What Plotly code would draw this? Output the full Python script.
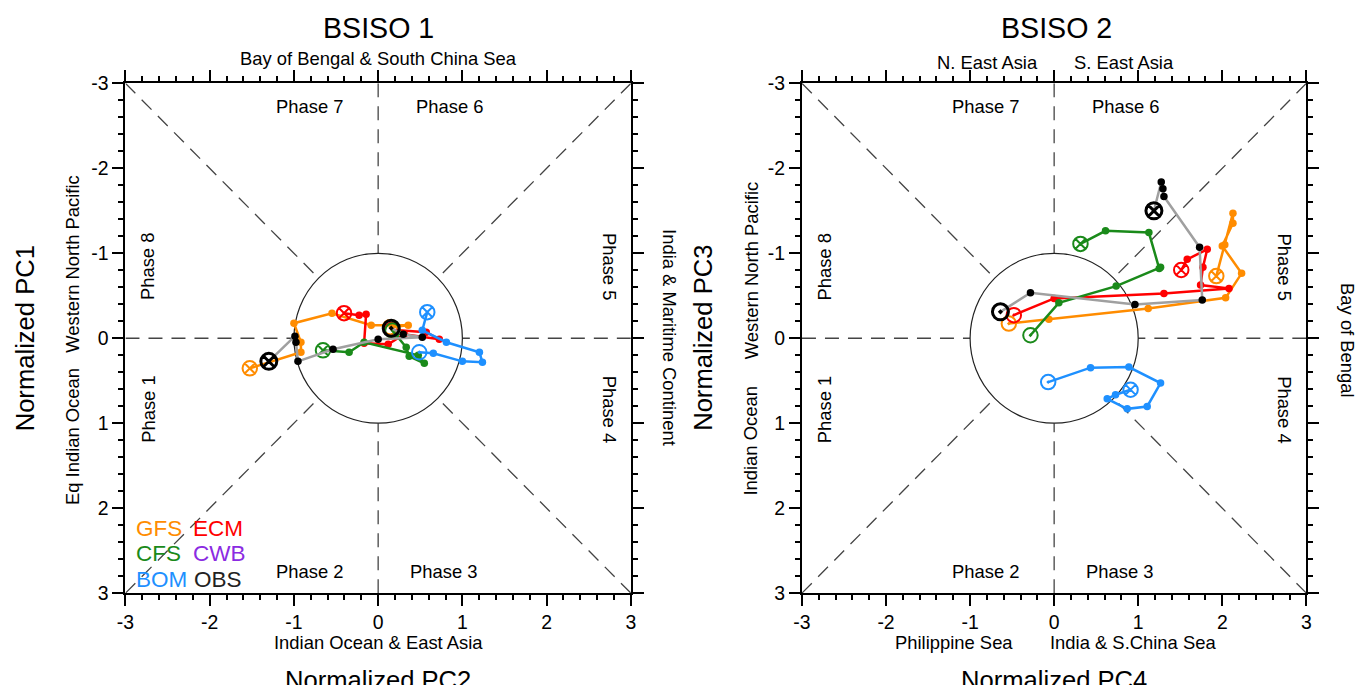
import plotly.graph_objects as go

# Mapping from wanted picture pixels to figure pixels (measured on the rendered page)
SX, CX, SY, CY, M = 0.989, 0.7, 0.967, 3.3, 8
FW, FH = 1362, 697
FS = 1.022  # font compensation

# ---------------- data ----------------
TICK_VALS = [-3, -2, -1, 0, 1, 2, 3]
TICK_TEXT = ["-3", "-2", "-1", "0", "1", "2", "3"]

MODELS = ["GFS", "ECM", "CFS", "CWB", "BOM", "OBS"]
COLORS = {"GFS": "#FF8C00", "ECM": "#FF0000", "CFS": "#1A8A1A",
          "CWB": "#8B2BE2", "BOM": "#1E90FF", "OBS": "#000000"}

# BSISO 1 : x = Normalized PC2, y = Normalized PC1
GFS1_X = [0.143, 0.357, -0.083, -0.548, -1.0, -0.917, -0.917, -1.524]
GFS1_Y = [-0.130, -0.154, -0.154, -0.295, -0.177, 0.047, 0.165, 0.354]
ECM1_X = [0.165, 0.571, 0.726, 0.310, 0.119, -0.167, -0.143, -0.226, -0.405]
ECM1_Y = [-0.100, -0.071, 0.012, -0.047, 0.071, 0.059, -0.283, -0.272, -0.295]
CFS1_X = [0.170, 0.333, 0.369, 0.548, 0.476, -0.167, -0.345, -0.655]
CFS1_Y = [-0.090, 0.106, 0.213, 0.295, 0.200, 0.047, 0.165, 0.142]
BOM1_X = [0.488, 0.655, 1.0, 1.238, 1.202, 0.810, 0.524, 0.583]
BOM1_Y = [0.165, 0.177, 0.272, 0.283, 0.165, 0.047, -0.094, -0.307]
OBS1_X = [0.155, 0.298, 0.524, 0.0, -0.536, -0.952, -0.976, -0.988, -1.298]
OBS1_Y = [-0.118, -0.047, -0.012, 0.012, 0.130, 0.272, 0.047, -0.024, 0.272]

# BSISO 2 : x = Normalized PC4, y = Normalized PC3
GFS2_X = [-0.539, -0.063, 1.119, 2.040, 2.230, 2.0, 2.127, 2.127, 2.03, 1.929]
GFS2_Y = [-0.173, -0.224, -0.350, -0.476, -0.764, -1.087, -1.354, -1.472, -1.10, -0.732]
ECM2_X = [-0.480, 0.0, 1.306, 2.080, 1.742, 1.770, 1.821, 1.583, 1.512]
ECM2_Y = [-0.272, -0.469, -0.528, -0.587, -0.626, -0.835, -1.047, -0.929, -0.803]
CFS2_X = [-0.282, 0.056, 0.738, 1.266, 1.25, 1.127, 0.611, 0.313]
CFS2_Y = [-0.035, -0.417, -0.614, -0.835, -0.82, -1.244, -1.264, -1.110]
BOM2_X = [-0.071, 0.433, 0.889, 1.266, 1.107, 0.869, 0.631, 0.730, 0.909]
BOM2_Y = [0.516, 0.346, 0.339, 0.528, 0.803, 0.831, 0.713, 0.665, 0.606]
OBS2_X = [-0.639, -0.282, 0.961, 1.762, 1.730, 1.306, 1.294, 1.274, 1.187]
OBS2_Y = [-0.311, -0.535, -0.398, -0.449, -1.071, -1.669, -1.760, -1.839, -1.5]

PANEL1 = {"GFS": (GFS1_X, GFS1_Y), "ECM": (ECM1_X, ECM1_Y), "CFS": (CFS1_X, CFS1_Y),
          "BOM": (BOM1_X, BOM1_Y), "OBS": (OBS1_X, OBS1_Y)}
PANEL2 = {"GFS": (GFS2_X, GFS2_Y), "ECM": (ECM2_X, ECM2_Y), "CFS": (CFS2_X, CFS2_Y),
          "BOM": (BOM2_X, BOM2_Y), "OBS": (OBS2_X, OBS2_Y)}

PHASES = ["Phase 1", "Phase 2", "Phase 3", "Phase 4",
          "Phase 5", "Phase 6", "Phase 7", "Phase 8"]

FONT = "Liberation Sans, Arial, Helvetica, sans-serif"


def px(xs):
    return ((xs - CX) / SX - M) / FW


def py(ys):
    return 1 - ((ys - CY) / SY - M) / FH


def f(s):
    return round(s * FS, 1)


fig = go.Figure()


def add_panel(data, xa, ya):
    for m in ["GFS", "ECM", "CFS", "BOM", "OBS"]:
        xs, ys = data[m]
        c = COLORS[m]
        obs = (m == "OBS")
        fig.add_trace(go.Scatter(
            x=xs, y=ys, mode="lines", xaxis=xa, yaxis=ya,
            line=dict(color="#A0A0A0" if obs else c, width=2.5),
            showlegend=False, hoverinfo="skip"))
        fig.add_trace(go.Scatter(
            x=xs[1:-1], y=ys[1:-1], mode="markers", xaxis=xa, yaxis=ya,
            marker=dict(color=c, size=7.5, symbol="circle"),
            showlegend=False, hoverinfo="skip"))
        fig.add_trace(go.Scatter(
            x=[xs[0]], y=[ys[0]], mode="markers", xaxis=xa, yaxis=ya,
            marker=dict(color=c, size=16 if obs else 14.5, symbol="circle-open-dot",
                        line=dict(width=3 if obs else 2, color=c)),
            showlegend=False, hoverinfo="skip"))
        fig.add_trace(go.Scatter(
            x=[xs[-1]], y=[ys[-1]], mode="markers", xaxis=xa, yaxis=ya,
            marker=dict(color=c, size=16 if obs else 14.5, symbol="circle-x-open",
                        line=dict(width=3 if obs else 2, color=c)),
            showlegend=False, hoverinfo="skip"))


add_panel(PANEL1, "x", "y")
add_panel(PANEL2, "x2", "y2")

# ---------------- reference lines ----------------
shapes = []
r = 0.7071
for xr, yr in [("x", "y"), ("x2", "y2")]:
    dash = dict(color="#444444", width=1.3, dash="14px,9px")
    segs = [(-3, 0, -1, 0), (3, 0, 1, 0), (0, -3, 0, -1), (0, 3, 0, 1),
            (-3, -3, -r, -r), (3, 3, r, r), (-3, 3, -r, r), (3, -3, r, -r)]
    for x0, y0, x1, y1 in segs:
        shapes.append(dict(type="line", xref=xr, yref=yr, x0=x0, y0=y0, x1=x1, y1=y1,
                           line=dash, layer="below"))
    shapes.append(dict(type="circle", xref=xr, yref=yr, x0=-1, y0=-1, x1=1, y1=1,
                       line=dict(color="#222222", width=1.2), layer="below"))

# ---------------- axes ----------------
def axis(domain, is_y=False):
    return dict(
        domain=domain, range=[3, -3] if is_y else [-3, 3],
        tickmode="array", tickvals=TICK_VALS, ticktext=TICK_TEXT,
        ticks="outside", ticklen=11, tickwidth=2, tickcolor="black",
        minor=dict(dtick=0.2, tick0=0, ticks="outside", ticklen=5,
                   tickwidth=1.5, tickcolor="black"),
        showline=True, linewidth=2, linecolor="black", mirror="ticks",
        showgrid=False, zeroline=False,
        tickfont=dict(size=f(19), color="black", family=FONT),
        fixedrange=True,
    )

XD1 = [px(125), px(630)]
XD2 = [px(801), px(1305)]
YD = [py(592.3), py(83.3)]

layout_axes = dict(
    xaxis=dict(axis(XD1), anchor="y"),
    yaxis=dict(axis(YD, True), anchor="x"),
    xaxis2=dict(axis(XD2), anchor="y2"),
    yaxis2=dict(axis(YD, True), anchor="x2"),
)

# ---------------- annotations ----------------
ann = []


def txt(x, y, s, size=18, angle=0, color="black", xanchor="center", xref="paper", yref="paper"):
    ann.append(dict(x=x, y=y, xref=xref, yref=yref, text=s, showarrow=False,
                    textangle=angle, xanchor=xanchor, yanchor="middle",
                    font=dict(size=f(size), color=color, family=FONT)))


# panel 1
txt(px(377.5), py(28), "BSISO 1", 28)
txt(px(378), py(58), "Bay of Bengal & South China Sea")
txt(px(377.5), py(642), "Indian Ocean & East Asia")
txt(px(377.5), py(679), "Normalized PC2", 25)
txt(px(25), py(337.5), "Normalized PC1", 25, -90)
txt(px(72), py(263), "Western North Pacific", 18, -90)
txt(px(72), py(436), "Eq Indian Ocean", 18, -90)
txt(px(668), py(337.5), "India & Maritime Continent", 18, 90)

# panel 2
txt(px(1055), py(28), "BSISO 2", 28)
txt(px(986), py(62), "N. East Asia")
txt(px(1123), py(62), "S. East Asia")
txt(px(953), py(642), "Philippine Sea")
txt(px(1132), py(642), "India & S.China Sea")
txt(px(1053), py(679), "Normalized PC4", 25)
txt(px(702), py(337.5), "Normalized PC3", 25, -90)
txt(px(750), py(270), "Western North Pacific", 18, -90)
txt(px(750), py(440), "Indian Ocean", 18, -90)
txt(px(1346), py(340), "Bay of Bengal", 18, 90)

# phase labels (data coordinates)
PHASE_POS = {"Phase 1": (-2.73, 0.84, -90), "Phase 2": (-0.82, 2.74, 0),
             "Phase 3": (0.78, 2.74, 0), "Phase 4": (2.74, 0.84, 90),
             "Phase 5": (2.74, -0.84, 90), "Phase 6": (0.85, -2.73, 0),
             "Phase 7": (-0.82, -2.73, 0), "Phase 8": (-2.73, -0.84, -90)}
for xr, yr in [("x", "y"), ("x2", "y2")]:
    for p in PHASES:
        x, y, a = PHASE_POS[p]
        txt(x, y, p, 18, a, xref=xr, yref=yr)

# legend (text only)
LEG_POS = {"GFS": (134, 528), "ECM": (190, 528), "CFS": (134, 553),
           "CWB": (190, 553), "BOM": (134, 579), "OBS": (191, 579)}
for m in MODELS:
    x, y = LEG_POS[m]
    txt(px(x), py(y), m, 22, 0, color=COLORS[m] if m != "OBS" else "#222222", xanchor="left")

fig.update_layout(
    width=FW, height=FH, margin=dict(l=0, r=0, t=0, b=0),
    paper_bgcolor="white", plot_bgcolor="white",
    shapes=shapes, annotations=ann, showlegend=False,
    **layout_axes,
)

fig.write_html("out.html", config={"displayModeBar": False})
